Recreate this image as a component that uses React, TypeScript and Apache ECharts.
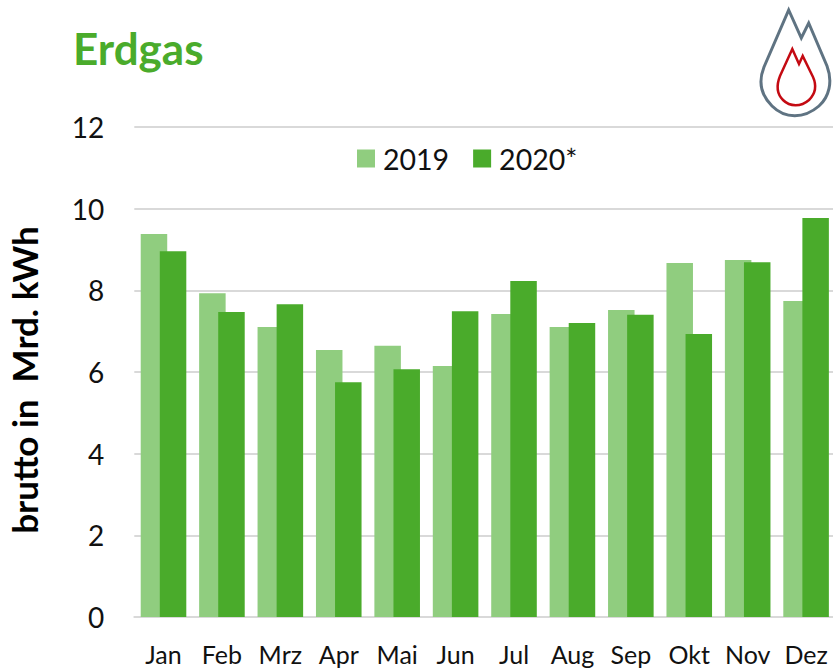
import React, { useEffect, useRef } from "react";
import * as echarts from "echarts";

const titleText = "Erdgas";
const yAxisTitle = "brutto in  Mrd. kWh";
const categories = ["Jan", "Feb", "Mrz", "Apr", "Mai", "Jun", "Jul", "Aug", "Sep", "Okt", "Nov", "Dez"];
const values2019 = [9.38, 7.93, 7.1, 6.54, 6.64, 6.15, 7.42, 7.1, 7.52, 8.67, 8.74, 7.74];
const values2020 = [8.96, 7.47, 7.66, 5.75, 6.07, 7.49, 8.23, 7.2, 7.4, 6.93, 8.69, 9.77];
const FONT = "Lato, Carlito, sans-serif";

const outerFlame = "M788.7 10 L801.3 38 L808.7 23 L827 66 C833 82 829 97 819 106 C804 119 785 119 772 106 C761 95 758 82 764 67 Z";
const innerFlame = "M792.3 49 L799 64 L802.7 56 L813 77 C817 86 815 94 809 100 C801 107 790 107 783 100 C777 94 776 86 780 76 Z";
echarts.graphic.registerShape("flameOuter", echarts.graphic.extendPath(outerFlame, {}));
echarts.graphic.registerShape("flameInner", echarts.graphic.extendPath(innerFlame, {}));

export default function App() {
  const ref = useRef<HTMLDivElement>(null);
  useEffect(() => {
    const chart = echarts.init(ref.current!, undefined, { renderer: "svg" });
    chart.setOption({
      animation: false,
      backgroundColor: "#ffffff",
      title: {
        text: titleText,
        left: 68,
        top: 21,
        textStyle: { fontFamily: FONT, fontSize: 44, fontWeight: "bold", color: "#4aab2b" },
      },
      legend: {
        top: 139,
        left: 352,
        itemWidth: 18,
        itemHeight: 18,
        itemGap: 24,
        icon: "rect",
        textStyle: { fontFamily: FONT, fontSize: 28.5, color: "#111111", padding: [0, 0, 0, 3] },
      },
      grid: { left: 134.3, top: 127, width: 701, height: 490, containLabel: false, outerBoundsMode: "none" },
      xAxis: {
        type: "category",
        data: categories,
        axisTick: { show: false },
        axisLine: { lineStyle: { color: "#d9d9d9", width: 2 } },
        axisLabel: { fontFamily: FONT, fontSize: 25, color: "#111111", margin: 24, interval: 0 },
      },
      yAxis: {
        type: "value",
        min: 0,
        max: 12,
        interval: 2,
        name: yAxisTitle,
        nameLocation: "middle",
        nameGap: 93,
        nameTextStyle: { fontFamily: FONT, fontSize: 35, fontWeight: "bold", color: "#000000", padding: [0, 16, 0, 0] },
        axisLine: { show: false },
        axisTick: { show: false },
        splitLine: { lineStyle: { color: "#d9d9d9", width: 2 } },
        axisLabel: { fontFamily: FONT, fontSize: 28, color: "#111111", margin: 30, padding: [0, 0, 2, 0] },
      },
      series: [
        { name: "2019", type: "bar", data: values2019, barWidth: 26.5, barGap: "-28%", itemStyle: { color: "#90cd7f" } },
        { name: "2020*", type: "bar", data: values2020, barWidth: 26.5, barGap: "-28%", itemStyle: { color: "#4aab2b" } },
      ],
      graphic: [
        { type: "flameOuter", x: 0, y: 0, style: { fill: "none", stroke: "#5f7382", lineWidth: 3 } },
        { type: "flameInner", x: 0, y: 0, style: { fill: "none", stroke: "#c40a12", lineWidth: 2.5 } },
      ],
    });
    return () => chart.dispose();
  }, []);
  return <div ref={ref} style={{ position: "fixed", left: 0, top: 0, width: 833, height: 669 }} />;
}
